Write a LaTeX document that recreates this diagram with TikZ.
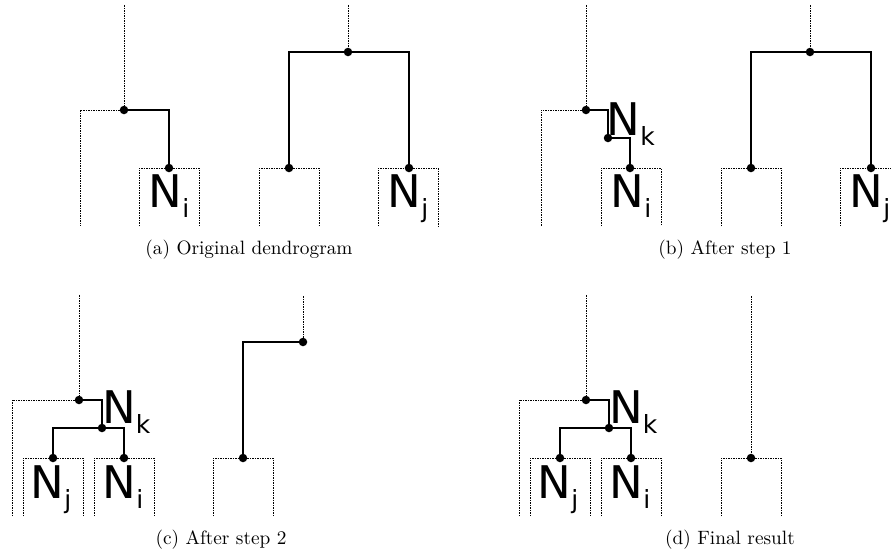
\documentclass[tikz,border=0pt]{standalone}
\usepackage{fontspec}
\newfontfamily\lblfont{DejaVu Sans}
\newfontfamily\capfont{lmroman10-regular}[Extension=.otf]
% cluster label: big N with a lowered index
\newcommand\nlab[1]{{\lblfont\fontsize{45}{45}\selectfont N\raisebox{-10pt}{\fontsize{25}{25}\selectfont #1}}}
\begin{document}
\begin{tikzpicture}[x=1pt,y=-1pt,
  solidln/.style={line width=1.2pt,black},
  dotln/.style={line width=1pt,black,dash pattern=on 1.5pt off 1pt},
  jn/.style={circle,fill=black,inner sep=0pt,minimum size=8.5pt},
  lbl/.style={anchor=base west,inner sep=0pt},
  captxt/.style={anchor=base,inner sep=0pt,font=\capfont\fontsize{19.3}{24}\selectfont}]
\useasboundingbox (0,0) rectangle (891,558);
\clip (0,0) rectangle (891,558);

% ---------- (a) original dendrogram ----------
\node[jn] (a1) at (124,110) {};
\node[jn] (ai) at (169,168) {};
\node[jn] (a2) at (348,52) {};
\node[jn] (a3) at (289,168) {};
\node[jn] (aj) at (409,168) {};
\coordinate (a-top1) at (124,5);
\coordinate (a-left) at (80,226);
\coordinate (a-ibl) at (139,226);
\coordinate (a-ibr) at (199,226);
\coordinate (a-top2) at (348,5);
\coordinate (a-3bl) at (259,226);
\coordinate (a-3br) at (319,226);
\coordinate (a-jbl) at (378,226);
\coordinate (a-jbr) at (438,226);
\draw[dotln] (a-top1) -- (a1);
\draw[dotln] (a1) -| (a-left);
\draw[solidln] (a1) -| (ai);
\draw[dotln] (a-ibl) |- (ai) -| (a-ibr);
\draw[dotln] (a-top2) -- (a2);
\draw[solidln] (a3) |- (a2) -| (aj);
\draw[dotln] (a-3bl) |- (a3) -| (a-3br);
\draw[dotln] (a-jbl) |- (aj) -| (a-jbr);
\node[lbl] (a-Ni) at (148.6,207) {\nlab{i}};
\node[lbl] (a-Nj) at (387.6,207) {\nlab{j}};
\node[captxt] (a-cap) at (249,254) {(a) Original dendrogram};

% ---------- (b) after step 1 ----------
\node[jn] (b1) at (586,110) {};
\node[jn] (bk) at (608,138) {};
\node[jn] (bi) at (630,168) {};
\node[jn] (b2) at (810,52) {};
\node[jn] (b3) at (751,168) {};
\node[jn] (bj) at (871,168) {};
\coordinate (b-top1) at (586,5);
\coordinate (b-left) at (541,226);
\coordinate (b-ibl) at (601,226);
\coordinate (b-ibr) at (661,226);
\coordinate (b-top2) at (810,5);
\coordinate (b-3bl) at (721,226);
\coordinate (b-3br) at (781,226);
\coordinate (b-jbl) at (840,226);
\coordinate (b-jbr) at (900,226);
\draw[dotln] (b-top1) -- (b1);
\draw[dotln] (b1) -| (b-left);
\draw[solidln] (b1) -| (bk);
\draw[solidln] (bk) -| (bi);
\draw[dotln] (b-ibl) |- (bi) -| (b-ibr);
\draw[dotln] (b-top2) -- (b2);
\draw[solidln] (b3) |- (b2) -| (bj);
\draw[dotln] (b-3bl) |- (b3) -| (b-3br);
\draw[dotln] (b-jbl) |- (bj) -| (b-jbr);
\node[lbl] (b-Nk) at (606.6,135) {\nlab{k}};
\node[lbl] (b-Ni) at (610.6,207) {\nlab{i}};
\node[lbl] (b-Nj) at (849.6,207) {\nlab{j}};
\node[captxt] (b-cap) at (725,254) {(b) After step 1};

% ---------- (c) after step 2 ----------
\node[jn] (c1) at (79,400) {};
\node[jn] (ck) at (102,428) {};
\node[jn] (cj) at (53,458) {};
\node[jn] (ci) at (124,458) {};
\node[jn] (c2) at (303,342) {};
\node[jn] (c3) at (243,458) {};
\coordinate (c-top1) at (79,295);
\coordinate (c-left) at (12,516);
\coordinate (c-jbl) at (23,516);
\coordinate (c-jbr) at (83,516);
\coordinate (c-ibl) at (94,516);
\coordinate (c-ibr) at (154,516);
\coordinate (c-top2) at (303,296);
\coordinate (c-3bl) at (213,516);
\coordinate (c-3br) at (273,516);
\draw[dotln] (c-top1) -- (c1);
\draw[dotln] (c1) -| (c-left);
\draw[solidln] (c1) -| (ck);
\draw[solidln] (cj) |- (ck) -| (ci);
\draw[dotln] (c-jbl) |- (cj) -| (c-jbr);
\draw[dotln] (c-ibl) |- (ci) -| (c-ibr);
\draw[dotln] (c-top2) -- (c2);
\draw[solidln] (c2) -| (c3);
\draw[dotln] (c-3bl) |- (c3) -| (c-3br);
\node[lbl] (c-Nk) at (102,423) {\nlab{k}};
\node[lbl] (c-Nj) at (30.6,498) {\nlab{j}};
\node[lbl] (c-Ni) at (102.6,498) {\nlab{i}};
\node[captxt] (c-cap) at (221,544) {(c) After step 2};

% ---------- (d) final result ----------
\node[jn] (d1) at (586,400) {};
\node[jn] (dk) at (609,428) {};
\node[jn] (dj) at (560,458) {};
\node[jn] (di) at (631,458) {};
\node[jn] (d3) at (751,458) {};
\coordinate (d-top1) at (586,295);
\coordinate (d-left) at (519,516);
\coordinate (d-jbl) at (530,516);
\coordinate (d-jbr) at (590,516);
\coordinate (d-ibl) at (601,516);
\coordinate (d-ibr) at (661,516);
\coordinate (d-top2) at (751,296);
\coordinate (d-3bl) at (721,516);
\coordinate (d-3br) at (781,516);
\draw[dotln] (d-top1) -- (d1);
\draw[dotln] (d1) -| (d-left);
\draw[solidln] (d1) -| (dk);
\draw[solidln] (dj) |- (dk) -| (di);
\draw[dotln] (d-jbl) |- (dj) -| (d-jbr);
\draw[dotln] (d-ibl) |- (di) -| (d-ibr);
\draw[dotln] (d-top2) -- (d3);
\draw[dotln] (d-3bl) |- (d3) -| (d-3br);
\node[lbl] (d-Nk) at (609,423) {\nlab{k}};
\node[lbl] (d-Nj) at (537.6,498) {\nlab{j}};
\node[lbl] (d-Ni) at (609.6,498) {\nlab{i}};
\node[captxt] (d-cap) at (730,544) {(d) Final result};
\end{tikzpicture}
\end{document}
